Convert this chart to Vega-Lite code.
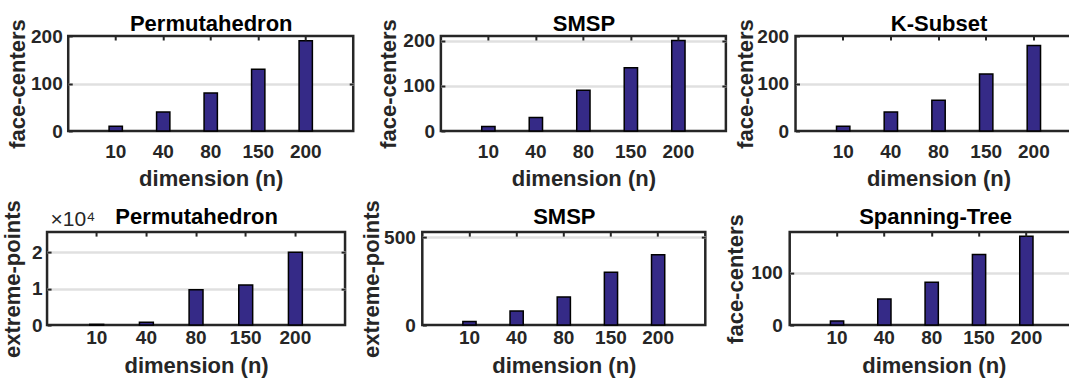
{
  "$schema": "https://vega.github.io/schema/vega-lite/v6.json",
  "background": "white",
  "padding": {"left": 0, "top": 11, "right": 0, "bottom": 0},
  "config": {
    "font": "Liberation Sans",
    "view": {"stroke": "#262626", "strokeWidth": 2.5},
    "axis": {"labelFont": "Liberation Sans", "titleFont": "Liberation Sans", "labelFontSize": 19, "labelFontWeight": "bold", "labelColor": "#262626", "titleFontSize": 22, "titleFontWeight": "bold", "titleColor": "#262626", "domain": false, "tickColor": "#262626", "tickWidth": 2, "gridColor": "#e0e0e0", "gridWidth": 2.5, "grid": false, "zindex": 0},
    "axisX": {"labelAngle": 0, "bandPosition": 0.5},
    "axisTop": {"titleColor": "#000000", "titleBaseline": "alphabetic"}
  },
  "data": {"values": [
    {"panel": "A", "n": 10, "value": 10}, {"panel": "A", "n": 40, "value": 40}, {"panel": "A", "n": 80, "value": 80}, {"panel": "A", "n": 150, "value": 130}, {"panel": "A", "n": 200, "value": 190},
    {"panel": "B", "n": 10, "value": 10}, {"panel": "B", "n": 40, "value": 30}, {"panel": "B", "n": 80, "value": 90}, {"panel": "B", "n": 150, "value": 140}, {"panel": "B", "n": 200, "value": 200},
    {"panel": "C", "n": 10, "value": 10}, {"panel": "C", "n": 40, "value": 40}, {"panel": "C", "n": 80, "value": 65}, {"panel": "C", "n": 150, "value": 120}, {"panel": "C", "n": 200, "value": 180},
    {"panel": "D", "n": 10, "value": 200}, {"panel": "D", "n": 40, "value": 750}, {"panel": "D", "n": 80, "value": 9700}, {"panel": "D", "n": 150, "value": 11000}, {"panel": "D", "n": 200, "value": 20000},
    {"panel": "E", "n": 10, "value": 20}, {"panel": "E", "n": 40, "value": 80}, {"panel": "E", "n": 80, "value": 160}, {"panel": "E", "n": 150, "value": 300}, {"panel": "E", "n": 200, "value": 400},
    {"panel": "F", "n": 10, "value": 8}, {"panel": "F", "n": 40, "value": 50}, {"panel": "F", "n": 80, "value": 82}, {"panel": "F", "n": 150, "value": 135}, {"panel": "F", "n": 200, "value": 170}
  ]},
  "spacing": 7.1,
  "center": true,
  "vconcat": [
    {
      "spacing": 19.65,
      "hconcat": [
        {
          "width": 285, "height": 95,
          "transform": [{"filter": "datum.panel === 'A'"}],
          "layer": [
            {"mark": {"type": "bar", "fill": "#352a87", "stroke": "#000000", "strokeWidth": 1.5},
             "encoding": {
               "x": {"field": "n", "type": "ordinal", "scale": {"paddingInner": 0.72, "paddingOuter": 0.86}, "axis": {"orient": "bottom", "title": "dimension (n)", "ticks": false, "labelPadding": 11, "titlePadding": 7.7}},
               "y": {"field": "value", "type": "quantitative", "scale": {"domain": [0, 200], "nice": false}, "axis": {"orient": "left", "title": "face-centers", "values": [0, 100, 200], "tickSize": -4, "labelPadding": 10, "titlePadding": 6.3, "titleBaseline": "alphabetic"}}
             }},
            {"mark": {"type": "bar", "opacity": 0},
             "encoding": {
               "x": {"field": "n", "type": "ordinal", "axis": {"orient": "top", "labels": false, "tickSize": -4, "title": "Permutahedron", "titlePadding": 4.7, "zindex": 1}},
               "y": {"field": "value", "type": "quantitative", "axis": {"orient": "right", "labels": false, "tickSize": -4, "values": [100], "grid": true, "title": null}}
             }}
          ],
          "resolve": {"axis": {"x": "independent", "y": "independent"}}
        },
        {
          "spacing": 4.65,
          "hconcat": [
            {
              "width": 285, "height": 95,
              "transform": [{"filter": "datum.panel === 'B'"}],
              "layer": [
                {"mark": {"type": "bar", "fill": "#352a87", "stroke": "#000000", "strokeWidth": 1.5},
                 "encoding": {
                   "x": {"field": "n", "type": "ordinal", "scale": {"paddingInner": 0.72, "paddingOuter": 0.86}, "axis": {"orient": "bottom", "title": "dimension (n)", "ticks": false, "labelPadding": 11, "titlePadding": 7.7}},
                   "y": {"field": "value", "type": "quantitative", "scale": {"domain": [0, 210], "nice": false}, "axis": {"orient": "left", "title": "face-centers", "values": [0, 100, 200], "tickSize": -4, "labelPadding": 10.3, "titlePadding": 7.7, "titleBaseline": "alphabetic"}}
                 }},
                {"mark": {"type": "bar", "opacity": 0},
                 "encoding": {
                   "x": {"field": "n", "type": "ordinal", "axis": {"orient": "top", "labels": false, "tickSize": -4, "title": "SMSP", "titlePadding": 4.7, "zindex": 1}},
                   "y": {"field": "value", "type": "quantitative", "axis": {"orient": "right", "labels": false, "tickSize": -4, "values": [100, 200], "grid": true, "title": null}}
                 }}
              ],
              "resolve": {"axis": {"x": "independent", "y": "independent"}}
            },
            {
              "width": 286, "height": 95,
              "transform": [{"filter": "datum.panel === 'C'"}],
              "layer": [
                {"mark": {"type": "bar", "fill": "#352a87", "stroke": "#000000", "strokeWidth": 1.5},
                 "encoding": {
                   "x": {"field": "n", "type": "ordinal", "scale": {"paddingInner": 0.72, "paddingOuter": 0.86}, "axis": {"orient": "bottom", "title": "dimension (n)", "ticks": false, "labelPadding": 11, "titlePadding": 7.7}},
                   "y": {"field": "value", "type": "quantitative", "scale": {"domain": [0, 200], "nice": false}, "axis": {"orient": "left", "title": "face-centers", "values": [0, 100, 200], "tickSize": -4, "labelPadding": 11, "titlePadding": 4, "titleBaseline": "alphabetic"}}
                 }},
                {"mark": {"type": "bar", "opacity": 0},
                 "encoding": {
                   "x": {"field": "n", "type": "ordinal", "axis": {"orient": "top", "labels": false, "tickSize": -4, "title": "K-Subset", "titlePadding": 4.7, "zindex": 1}},
                   "y": {"field": "value", "type": "quantitative", "axis": {"orient": "right", "labels": false, "tickSize": -4, "values": [100], "grid": true, "title": null}}
                 }}
              ],
              "resolve": {"axis": {"x": "independent", "y": "independent"}}
            }
          ]
        }
      ]
    },
    {
      "spacing": 15.65,
      "hconcat": [
        {
          "spacing": 10.25,
          "hconcat": [
            {
              "width": 298, "height": 93,
              "transform": [{"filter": "datum.panel === 'D'"}],
              "layer": [
                {"mark": {"type": "bar", "fill": "#352a87", "stroke": "#000000", "strokeWidth": 1.5},
                 "encoding": {
                   "x": {"field": "n", "type": "ordinal", "scale": {"paddingInner": 0.72, "paddingOuter": 0.86}, "axis": {"orient": "bottom", "title": "dimension (n)", "ticks": false, "labelPadding": 3, "titlePadding": 8.4}},
                   "y": {"field": "value", "type": "quantitative", "scale": {"domain": [0, 25500], "nice": false}, "axis": {"orient": "left", "title": "extreme-points", "values": [0, 10000, 20000], "labelExpr": "datum.value / 10000", "tickSize": -4, "labelPadding": 9, "titlePadding": 12.1, "titleBaseline": "alphabetic"}}
                 }},
                {"mark": {"type": "bar", "opacity": 0},
                 "encoding": {
                   "x": {"field": "n", "type": "ordinal", "axis": {"orient": "top", "labels": false, "tickSize": -4, "zindex": 1, "title": "Permutahedron", "titlePadding": 7.4}},
                   "y": {"field": "value", "type": "quantitative", "axis": {"orient": "right", "labels": false, "tickSize": -4, "values": [10000, 20000], "grid": true, "title": "×10⁴", "titleX": -295, "titleY": -7, "titleAngle": 0, "titleAlign": "left", "titleBaseline": "alphabetic", "titleFontWeight": "normal", "titleFontSize": 21}}
                 }}
              ],
              "resolve": {"axis": {"x": "independent", "y": "independent"}}
            },
            {
              "width": 283, "height": 93,
              "transform": [{"filter": "datum.panel === 'E'"}],
              "layer": [
                {"mark": {"type": "bar", "fill": "#352a87", "stroke": "#000000", "strokeWidth": 1.5},
                 "encoding": {
                   "x": {"field": "n", "type": "ordinal", "scale": {"paddingInner": 0.72, "paddingOuter": 0.86}, "axis": {"orient": "bottom", "title": "dimension (n)", "ticks": false, "labelPadding": 3, "titlePadding": 8.4}},
                   "y": {"field": "value", "type": "quantitative", "scale": {"domain": [0, 528], "nice": false}, "axis": {"orient": "left", "title": "extreme-points", "values": [0, 500], "tickSize": -4, "labelPadding": 11, "titlePadding": 5.3, "titleBaseline": "alphabetic"}}
                 }},
                {"mark": {"type": "bar", "opacity": 0},
                 "encoding": {
                   "x": {"field": "n", "type": "ordinal", "axis": {"orient": "top", "labels": false, "tickSize": -4, "title": "SMSP", "titlePadding": 7.4, "zindex": 1}},
                   "y": {"field": "value", "type": "quantitative", "axis": {"orient": "right", "labels": false, "tickSize": -4, "values": [500], "grid": true, "title": null}}
                 }}
              ],
              "resolve": {"axis": {"x": "independent", "y": "independent"}}
            }
          ]
        },
        {
          "width": 284, "height": 93,
          "transform": [{"filter": "datum.panel === 'F'"}],
          "layer": [
            {"mark": {"type": "bar", "fill": "#352a87", "stroke": "#000000", "strokeWidth": 1.5},
             "encoding": {
               "x": {"field": "n", "type": "ordinal", "scale": {"paddingInner": 0.72, "paddingOuter": 0.86}, "axis": {"orient": "bottom", "title": "dimension (n)", "titleAlign": "left", "titleX": 72, "titleY": 47.7, "titleBaseline": "alphabetic", "ticks": false, "labelPadding": 3}},
               "y": {"field": "value", "type": "quantitative", "scale": {"domain": [0, 178], "nice": false}, "axis": {"orient": "left", "title": "face-centers", "values": [0, 100], "tickSize": -4, "labelPadding": 11.3, "titlePadding": 7.7, "titleBaseline": "alphabetic"}}
             }},
            {"mark": {"type": "bar", "opacity": 0},
             "encoding": {
               "x": {"field": "n", "type": "ordinal", "axis": {"orient": "top", "labels": false, "tickSize": -4, "title": "Spanning-Tree", "titleAlign": "left", "titleX": 69, "titleY": -8.4, "zindex": 1}},
               "y": {"field": "value", "type": "quantitative", "axis": {"orient": "right", "labels": false, "tickSize": -4, "values": [100], "grid": true, "title": null, "minExtent": 30}}
             }}
          ],
          "resolve": {"axis": {"x": "independent", "y": "independent"}}
        }
      ]
    }
  ]
}
